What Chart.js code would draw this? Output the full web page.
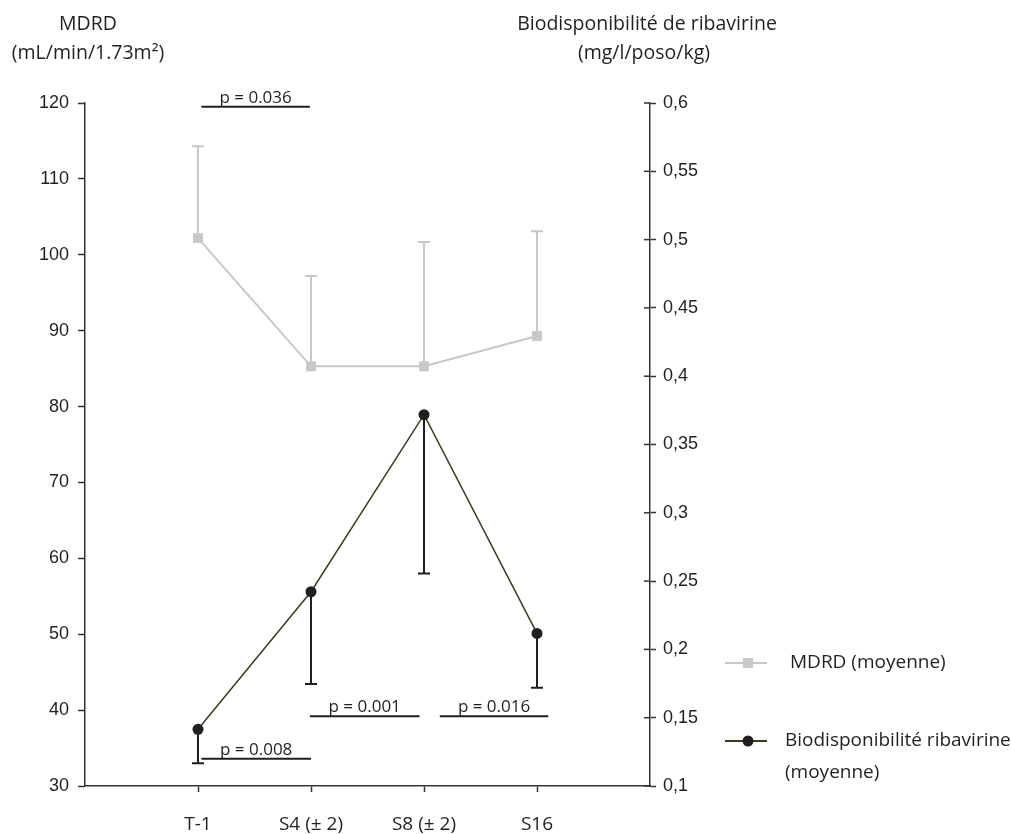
<!DOCTYPE html>
<html lang="fr">
<head>
  <meta charset="UTF-8">
  <title>MDRD et biodisponibilité de la ribavirine</title>
  <script src="https://cdn.jsdelivr.net/npm/chart.js"></script>
  <style>
    html, body {
      margin: 0;
      padding: 0;
      background: #ffffff;
    }
    #wrap {
      width: 1011px;
      height: 834px;
    }
  </style>
</head>
<body>
  <div id="wrap"><canvas id="graphique" width="1011" height="834"></canvas></div>

  <script>
    // Données
    const categories = ['T-1', 'S4 (± 2)', 'S8 (± 2)', 'S16'];
    const mdrd = [102.2, 85.3, 85.3, 89.3];
    const mdrdHaut = [114.3, 97.2, 101.7, 103.1];
    const ribavirine = [0.1415, 0.2422, 0.3718, 0.2117];
    const ribavirineBas = [0.1167, 0.1747, 0.2556, 0.1719];

    // tests statistiques (positions en unités des axes)
    const pTextes = ['p = 0.036', 'p = 0.008', 'p = 0.001', 'p = 0.016'];
    const pDebut = [1.03, 1.03, 1.99, 3.14];
    const pFin = [1.99, 2.0, 2.96, 4.1];
    const pNiveau = [119.5, 33.6, 39.2, 39.2];

    const gris = '#c8c8c8';
    const noir = '#231f20';
    const olive = '#3b3a1c';
    const policeTexte = '"Open Sans", Lato, sans-serif';
    const policeChiffres = '"Liberation Sans", Arial, sans-serif';

    const points = (vals) => vals.map((v, i) => ({ x: i + 1, y: v }));

    // barres d'erreur + annotations p
    const extras = {
      id: 'extras',
      beforeDatasetsDraw(chart) {
        const ctx = chart.ctx;
        const x = chart.scales.x, y = chart.scales.y, y2 = chart.scales.y2;
        ctx.save();
        ctx.lineWidth = 2;
        ctx.strokeStyle = gris;
        mdrd.forEach((v, i) => {
          const px = x.getPixelForValue(i + 1);
          const top = y.getPixelForValue(mdrdHaut[i]);
          ctx.beginPath();
          ctx.moveTo(px, y.getPixelForValue(v));
          ctx.lineTo(px, top);
          ctx.moveTo(px - 6, top);
          ctx.lineTo(px + 6, top);
          ctx.stroke();
        });
        ctx.strokeStyle = noir;
        ribavirine.forEach((v, i) => {
          const px = x.getPixelForValue(i + 1);
          const bas = y2.getPixelForValue(ribavirineBas[i]);
          ctx.beginPath();
          ctx.moveTo(px, y2.getPixelForValue(v));
          ctx.lineTo(px, bas);
          ctx.moveTo(px - 6, bas);
          ctx.lineTo(px + 6, bas);
          ctx.stroke();
        });
        ctx.restore();
      },
      afterDraw(chart) {
        const ctx = chart.ctx;
        const x = chart.scales.x, y = chart.scales.y, y2 = chart.scales.y2;
        ctx.save();
        // graduations traversantes de l'axe droit
        ctx.strokeStyle = '#333333';
        ctx.lineWidth = 1.5;
        y2.ticks.forEach(t => {
          const py = y2.getPixelForValue(t.value);
          ctx.beginPath();
          ctx.moveTo(y2.left - 6, py);
          ctx.lineTo(y2.left, py);
          ctx.stroke();
        });
        // annotations p
        ctx.fillStyle = noir;
        ctx.strokeStyle = noir;
        ctx.lineWidth = 2;
        ctx.font = '17px ' + policeTexte;
        ctx.textAlign = 'center';
        ctx.textBaseline = 'alphabetic';
        pTextes.forEach((txt, i) => {
          const x1 = x.getPixelForValue(pDebut[i]);
          const x2 = x.getPixelForValue(pFin[i]);
          const py = y.getPixelForValue(pNiveau[i]);
          ctx.beginPath();
          ctx.moveTo(x1, py);
          ctx.lineTo(x2, py);
          ctx.stroke();
          ctx.fillText(txt, (x1 + x2) / 2, py - 4);
        });
        // titres des axes
        ctx.font = '19.5px ' + policeTexte;
        ctx.fillText('MDRD', 88, 30);
        ctx.fillText('(mL/min/1.73m²)', 88, 59);
        ctx.fillText('Biodisponibilité de ribavirine', 647, 30);
        ctx.fillText('(mg/l/poso/kg)', 644, 59);
        // légende
        ctx.font = '19px ' + policeTexte;
        ctx.textAlign = 'left';
        ctx.textBaseline = 'middle';
        ctx.lineWidth = 2;
        ctx.strokeStyle = gris;
        ctx.beginPath();
        ctx.moveTo(725, 663);
        ctx.lineTo(767, 663);
        ctx.stroke();
        ctx.fillStyle = gris;
        ctx.fillRect(743, 658, 10, 10);
        ctx.fillStyle = noir;
        ctx.fillText('MDRD (moyenne)', 790, 663);
        ctx.strokeStyle = olive;
        ctx.beginPath();
        ctx.moveTo(725, 741);
        ctx.lineTo(767, 741);
        ctx.stroke();
        ctx.beginPath();
        ctx.arc(748, 741, 5.5, 0, Math.PI * 2);
        ctx.fill();
        ctx.fillText('Biodisponibilité ribavirine', 785, 741);
        ctx.fillText('(moyenne)', 785, 773);
        ctx.restore();
      }
    };

    new Chart(document.getElementById('graphique'), {
      type: 'line',
      data: {
        datasets: [
          {
            label: 'MDRD (moyenne)',
            data: points(mdrd),
            yAxisID: 'y',
            borderColor: gris,
            backgroundColor: gris,
            borderWidth: 2,
            pointStyle: 'rect',
            pointRadius: 7,
            pointBorderWidth: 0,
            fill: false
          },
          {
            label: 'Biodisponibilité ribavirine (moyenne)',
            data: points(ribavirine),
            yAxisID: 'y2',
            borderColor: olive,
            backgroundColor: noir,
            borderWidth: 1.5,
            pointStyle: 'circle',
            pointRadius: 5.5,
            pointBorderWidth: 0,
            fill: false
          }
        ]
      },
      options: {
        responsive: false,
        animation: false,
        layout: { padding: { top: 103, left: 0, right: 0, bottom: 0 } },
        plugins: {
          legend: { display: false },
          tooltip: { enabled: false }
        },
        scales: {
          x: {
            type: 'linear',
            min: 0,
            max: 5,
            afterFit: s => { s.height = 48; },
            afterBuildTicks: s => { s.ticks = [0, 1, 2, 3, 4, 5].map(v => ({ value: v })); },
            border: { color: '#333333', width: 1.5 },
            grid: {
              drawOnChartArea: false,
              tickLength: 6,
              tickWidth: 1.5,
              color: c => (c.tick && c.tick.value >= 1 && c.tick.value <= 4) ? '#333333' : 'rgba(0,0,0,0)'
            },
            ticks: {
              autoSkip: false,
              maxRotation: 0,
              padding: 21,
              color: noir,
              font: { family: policeTexte, size: 19 },
              callback: v => categories[v - 1] || ''
            }
          },
          y: {
            position: 'left',
            min: 30,
            max: 120,
            afterFit: s => { s.width = 85; },
            border: { color: '#333333', width: 1.5 },
            grid: { drawOnChartArea: false, tickLength: 7, tickWidth: 1.5, color: '#333333' },
            ticks: {
              stepSize: 10,
              padding: 9,
              color: noir,
              font: { family: policeChiffres, size: 18 }
            }
          },
          y2: {
            position: 'right',
            min: 0.1,
            max: 0.6,
            afterFit: s => { s.width = 361; },
            border: { color: '#333333', width: 1.5 },
            grid: { drawOnChartArea: false, tickLength: 6, tickWidth: 1.5, color: '#333333' },
            ticks: {
              stepSize: 0.05,
              padding: 7,
              color: noir,
              font: { family: policeChiffres, size: 18 },
              callback: v => String(Math.round(v * 100) / 100).replace('.', ',')
            }
          }
        }
      },
      plugins: [extras]
    });
  </script>
</body>
</html>
